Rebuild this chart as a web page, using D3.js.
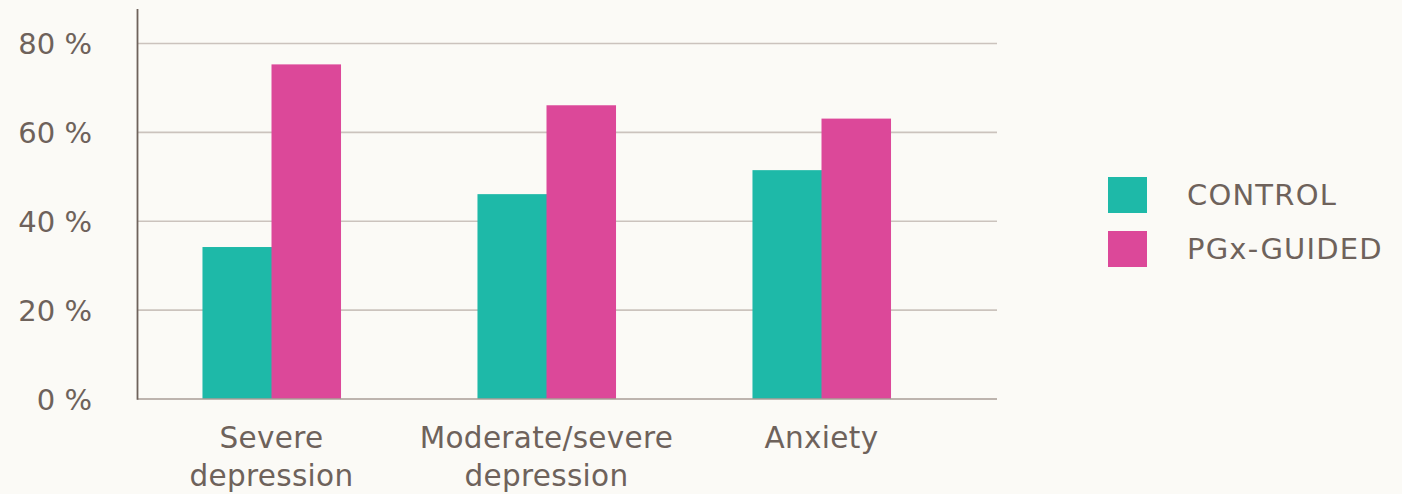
<!DOCTYPE html>
<html><head><meta charset="utf-8">
<script src="https://cdn.jsdelivr.net/npm/d3@7"></script>
<style>
html,body{margin:0;padding:0;background:#fbfaf6;}
svg{display:block;}
text{font-family:"DejaVu Sans",Lato,sans-serif;fill:#6e625b;}
</style></head>
<body>
<svg id="chart" width="1402" height="494"></svg>
<script>
const categories = [["Severe","depression"],["Moderate/severe","depression"],["Anxiety"]];
const seriesNames = ["CONTROL","PGx-GUIDED"];
const control = [34.2, 46.1, 51.5];
const pgx = [75.3, 66.1, 63.1];
const yTicks = [0,20,40,60,80];
const colors = ["#1eb9a8","#dc4899"];

const svg = d3.select("#chart");
const W = 1402, H = 494;
svg.append("rect").attr("width",W).attr("height",H).attr("fill","#fbfaf6");

const x0 = 137.5, xEnd = 997, y0 = 399, yTop = 9;
const y = d3.scaleLinear().domain([0,80]).range([y0,43.5]);
const x = d3.scaleBand().domain(d3.range(categories.length)).range([134,959]).paddingInner(0.498).paddingOuter(0.249);
const xs = d3.scaleBand().domain(d3.range(seriesNames.length)).range([0,x.bandwidth()]);

// grid
const grid = svg.append("g");
yTicks.filter(t=>t>0).forEach(t=>{
  grid.append("line").attr("x1",x0).attr("x2",xEnd).attr("y1",y(t)).attr("y2",y(t))
    .attr("stroke","#cbc3bd").attr("stroke-width",1.6);
});

// bars
const data = [control,pgx];
const g = svg.append("g");
categories.forEach((c,i)=>{
  data.forEach((s,j)=>{
    g.append("rect").attr("x",x(i)+xs(j)).attr("width",xs.bandwidth()+0.5)
      .attr("y",y(s[i])).attr("height",y(0)-y(s[i])).attr("fill",colors[j]);
  });
});

// baseline
svg.append("line").attr("x1",x0).attr("x2",xEnd).attr("y1",y0).attr("y2",y0)
  .attr("stroke","#a89d96").attr("stroke-width",1.6);
// y axis line
svg.append("line").attr("x1",x0).attr("x2",x0).attr("y1",yTop).attr("y2",y0+0.8)
  .attr("stroke","#6e625b").attr("stroke-width",1.8);

// y labels
const yAxis = d3.axisLeft(y).tickValues(yTicks).tickFormat(d=>d+" %").tickSize(0).tickPadding(0);
const ya = svg.append("g").attr("transform","translate(92,0)").call(yAxis);
ya.select(".domain").remove();
ya.selectAll("text").attr("font-size",29).attr("dy","0.36em").style("font-family","'DejaVu Sans',Lato,sans-serif").attr("fill","#6e625b");

// x labels
categories.forEach((lines,i)=>{
  const t = svg.append("text").attr("text-anchor","middle").attr("font-size",29.5).attr("letter-spacing",0.3)
    .attr("x",x(i)+x.bandwidth()/2).attr("y",448);
  lines.forEach((l,k)=>t.append("tspan").attr("x",x(i)+x.bandwidth()/2).attr("dy",k===0?0:38).text(l));
});

// legend
const leg = svg.append("g");
seriesNames.forEach((n,j)=>{
  leg.append("rect").attr("x",1108).attr("y",177+j*54).attr("width",39).attr("height",36).attr("fill",colors[j]);
  leg.append("text").attr("x",1187).attr("y",205+j*54).attr("font-size",29).attr("letter-spacing",1.2).text(n);
});
</script>
</body></html>
